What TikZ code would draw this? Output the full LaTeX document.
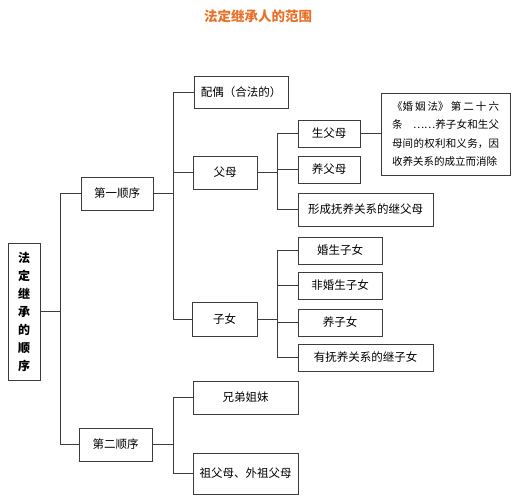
\documentclass[tikz,border=0pt]{standalone}
\usepackage{fontspec}
\setmainfont{Noto Sans CJK SC}
\usepackage{tikz}
\XeTeXlinebreaklocale "zh"
\XeTeXlinebreakskip=0pt plus 3pt
\definecolor{titleorange}{RGB}{232,112,40}
\definecolor{linegray}{RGB}{60,60,60}

\tikzset{
    item/.style={draw=linegray, line width=0.8pt, fill=white, inner sep=0pt,
        minimum height=27pt, font=\fontsize{11.5}{13}\selectfont},
    conn/.style={draw=linegray, line width=0.7pt}
}

\begin{document}
\begin{tikzpicture}[x=1pt, y=-1pt]
        \fill[white] (0,0) rectangle (513,500);
        \useasboundingbox (0,0) rectangle (513,500);

        % Title
        \node[text=titleorange, font=\fontsize{13.5}{15}\selectfont\bfseries] (title) at (258, 16) {法定继承人的范围};

        % Root
        \node[item, minimum width=32pt, minimum height=137pt, align=center,
            font=\fontsize{12}{18}\selectfont\bfseries] (root) at (24, 311.5)
            {法\\定\\继\\承\\的\\顺\\序};

        % First and second order
        \node[item, minimum width=72pt, minimum height=33pt] (first) at (117, 193.5) {第一顺序};
        \node[item, minimum width=73pt, minimum height=33pt] (second) at (115.5, 444.5) {第二顺序};

        % First order heirs
        \node[item, minimum width=94pt, minimum height=32pt] (spouse) at (241, 92) {配偶（合法的）};
        \node[item, minimum width=64pt, minimum height=33pt] (parents) at (225, 172.5) {父母};
        \node[item, minimum width=65pt, minimum height=34pt] (children) at (224.5, 319) {子女};

        % Second order heirs
        \node[item, minimum width=105pt, minimum height=33pt] (siblings) at (245.5, 397.5) {兄弟姐妹};
        \node[item, minimum width=105pt, minimum height=41pt] (grand) at (245.5, 473.5) {祖父母、外祖父母};

        % Parents
        \node[item, minimum width=62pt] (bio) at (329, 133.5) {生父母};
        \node[item, minimum width=62pt] (adopt) at (329, 169.5) {养父母};
        \node[item, minimum width=135pt, minimum height=33pt] (stepp) at (365.5, 209.5) {形成抚养关系的继父母};

        % Note on adoption
        \node[item, minimum width=129pt, minimum height=82pt, text width=107pt, align=justify,
            font=\fontsize{10.5}{18.5}\selectfont] (note) at (445.5, 134)
            {\parfillskip=0pt 《婚姻法》第二十六\linebreak 条\quad ……养子女和生父\linebreak 母间的权利和义务，因\linebreak 收养关系的成立而消除};

        % Children
        \foreach \n/\y/\txt in {c1/250.5/婚生子女, c2/285.5/非婚生子女, c3/322.5/养子女} {
            \node[item, minimum width=84pt] (\n) at (340, \y) {\txt};
        }
        \node[item, minimum width=135pt] (c4) at (365.5, 357.5) {有抚养关系的继子女};

        % Connectors
        \coordinate (busR) at (60, 0);
        \coordinate (busF) at (173, 0);
        \coordinate (busP) at (277, 0);
        \foreach \k in {first, second} {
            \draw[conn] (root.east) -| (busR |- \k.west) -- (\k.west);
        }
        \foreach \k in {spouse, parents, children} {
            \draw[conn] (first.east) -| (busF |- \k.west) -- (\k.west);
        }
        \foreach \k in {siblings, grand} {
            \draw[conn] (second.east) -| (busF |- \k.west) -- (\k.west);
        }
        \foreach \k in {bio, adopt, stepp} {
            \draw[conn] (parents.east) -| (busP |- \k.west) -- (\k.west);
        }
        \foreach \k in {c1, c2, c3, c4} {
            \draw[conn] (children.east) -| (busP |- \k.west) -- (\k.west);
        }
        \draw[conn] (bio.east) -- (bio.east -| note.west);
    \end{tikzpicture}
\end{document}
